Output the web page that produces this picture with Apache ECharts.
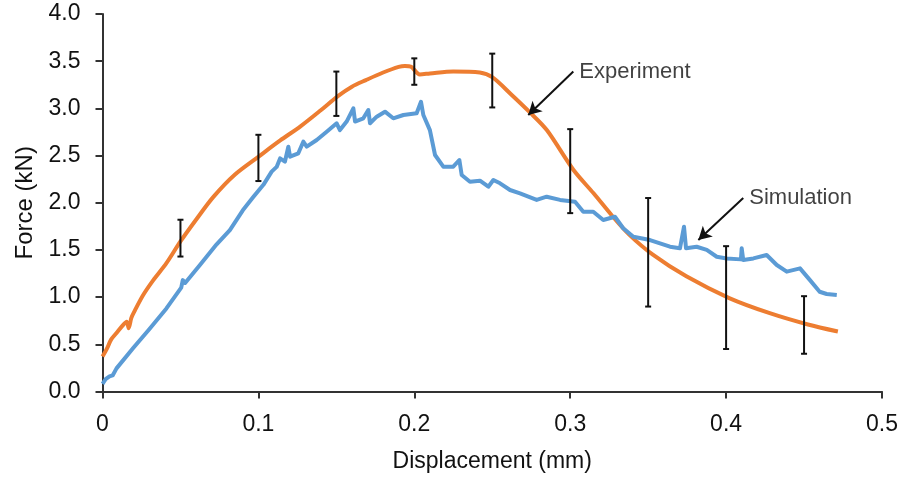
<!DOCTYPE html>
<html>
<head>
<meta charset="utf-8">
<title>Force–displacement</title>
<script src="https://cdn.jsdelivr.net/npm/echarts@6/dist/echarts.min.js"></script>
<style>
  html, body { margin: 0; padding: 0; background: #fff; }
  #chart { width: 905px; height: 479px; }
</style>
</head>
<body>
<div id="chart"></div>
<script>
// Experimental force–displacement curve (mm, kN)
const expDisp = [0.000, 0.003, 0.0055, 0.009, 0.013, 0.0155, 0.0168, 0.0185, 0.0208, 0.026,
  0.0326, 0.041, 0.050, 0.060, 0.071, 0.085, 0.101, 0.114, 0.127, 0.140,
  0.151, 0.160, 0.169, 0.180, 0.190, 0.194, 0.198, 0.2035, 0.210, 0.225,
  0.242, 0.250, 0.262, 0.274, 0.285, 0.302, 0.315, 0.327, 0.338, 0.353,
  0.3745, 0.402, 0.428, 0.4525, 0.4717];
const expForce = [0.37, 0.46, 0.55, 0.62, 0.70, 0.74, 0.67, 0.78, 0.86, 1.02,
  1.18, 1.36, 1.59, 1.82, 2.06, 2.30, 2.50, 2.66, 2.81, 2.98,
  3.13, 3.23, 3.30, 3.38, 3.44, 3.45, 3.44, 3.36, 3.37, 3.39,
  3.38, 3.33, 3.15, 2.96, 2.77, 2.35, 2.10, 1.86, 1.66, 1.45,
  1.22, 0.99, 0.83, 0.71, 0.635];

// Simulated force–displacement curve (mm, kN)
const simDisp = [0.000, 0.002, 0.0045, 0.0065, 0.009, 0.0197, 0.030, 0.041, 0.0505, 0.0515,
  0.053, 0.0625, 0.0732, 0.0817, 0.090, 0.0967, 0.1032, 0.1085, 0.1117, 0.1139,
  0.117, 0.1192, 0.1203, 0.1256, 0.1288, 0.131, 0.1374, 0.1438, 0.1502, 0.1523,
  0.1566, 0.1609, 0.162, 0.1673, 0.1705, 0.1716, 0.1759, 0.1812, 0.1865, 0.193,
  0.2015, 0.2043, 0.2058, 0.210, 0.2133, 0.2186, 0.225, 0.2289, 0.2304, 0.2357,
  0.2421, 0.2475, 0.2507, 0.255, 0.2614, 0.2678, 0.2785, 0.2849, 0.2935, 0.3031,
  0.3084, 0.3148, 0.3212, 0.3287, 0.334, 0.3405, 0.3512, 0.3576, 0.364, 0.3704,
  0.373, 0.3743, 0.3811, 0.3876, 0.394, 0.4004, 0.4095, 0.410, 0.411, 0.4175,
  0.426, 0.4325, 0.4389, 0.4474, 0.4538, 0.460, 0.4645, 0.471];
const simForce = [0.08, 0.13, 0.16, 0.17, 0.245, 0.46, 0.66, 0.88, 1.10, 1.18,
  1.15, 1.34, 1.56, 1.71, 1.92, 2.06, 2.19, 2.33, 2.38, 2.47,
  2.435, 2.594, 2.488, 2.524, 2.647, 2.594, 2.665, 2.753, 2.842, 2.77,
  2.86, 3.00, 2.86, 2.895, 2.983, 2.842, 2.912, 2.965, 2.895, 2.93,
  2.948, 3.07, 2.93, 2.77, 2.506, 2.382, 2.382, 2.453, 2.294, 2.223,
  2.234, 2.17, 2.241, 2.206, 2.135, 2.10, 2.03, 2.064, 2.03, 2.011,
  1.905, 1.905, 1.817, 1.852, 1.73, 1.64, 1.605, 1.57, 1.534, 1.517,
  1.746, 1.517, 1.534, 1.50, 1.428, 1.41, 1.40, 1.517, 1.393, 1.41,
  1.446, 1.34, 1.27, 1.305, 1.18, 1.057, 1.033, 1.022];

// Experimental scatter (error bars): displacement, lower and upper force
const barDisp = [0.05, 0.10, 0.15, 0.20, 0.25, 0.30, 0.35, 0.40, 0.45];
const barLow  = [1.43, 2.23, 2.92, 3.25, 3.01, 1.89, 0.90, 0.45, 0.40];
const barHigh = [1.82, 2.72, 3.39, 3.53, 3.58, 2.78, 2.05, 1.54, 1.01];

// Callout labels: text, label anchor and arrow tip (mm, kN)
const calloutText = ['Experiment', 'Simulation'];
const calloutFrom = [[0.302, 3.39], [0.411, 2.05]];
const calloutTo   = [[0.2731, 2.93], [0.3822, 1.605]];

const FONT = '"Liberation Sans", Arial, Helvetica, sans-serif';
const TEXT = '#111111';
const AXIS = '#333333';

const pairs = (xs, ys) => xs.map((x, i) => [x, ys[i]]);

const chart = echarts.init(document.getElementById('chart'), null, { renderer: 'canvas' });

chart.setOption({
  animation: false,
  backgroundColor: '#ffffff',
  textStyle: { fontFamily: FONT },
  grid: { left: 102.5, right: 23, top: 14, bottom: 87.5 },
  xAxis: {
    type: 'value', min: 0, max: 0.5, interval: 0.1,
    name: 'Displacement (mm)', nameLocation: 'middle', nameGap: 59,
    nameTextStyle: { fontFamily: FONT, fontSize: 23, color: TEXT },
    axisLine: { show: true, lineStyle: { color: AXIS, width: 2 } },
    axisTick: { show: true, length: 7, lineStyle: { color: AXIS, width: 2 } },
    axisLabel: {
      fontFamily: FONT, fontSize: 23, color: TEXT, margin: 22,
      formatter: v => (v === 0 ? '0' : v.toFixed(1))
    },
    splitLine: { show: false }
  },
  yAxis: {
    type: 'value', min: 0, max: 4, interval: 0.5,
    name: 'Force (kN)', nameLocation: 'middle', nameGap: 64,
    nameTextStyle: { fontFamily: FONT, fontSize: 24, color: TEXT },
    axisLine: { show: true, lineStyle: { color: AXIS, width: 2 } },
    axisTick: { show: true, length: 7, lineStyle: { color: AXIS, width: 2 } },
    axisLabel: {
      fontFamily: FONT, fontSize: 23, color: TEXT, margin: 22,
      padding: [5, 0, 0, 0],
      formatter: v => v.toFixed(1)
    },
    splitLine: { show: false }
  },
  series: [
    {
      name: 'Experiment',
      type: 'line',
      data: pairs(expDisp, expForce),
      showSymbol: false,
      smooth: 0.3,
      lineStyle: { color: '#ED7D31', width: 4 },
      z: 2
    },
    {
      name: 'Simulation',
      type: 'line',
      data: pairs(simDisp, simForce),
      showSymbol: false,
      lineStyle: { color: '#5B9BD5', width: 4, join: 'round' },
      z: 3
    },
    {
      name: 'Scatter',
      type: 'custom',
      data: barDisp.map((x, i) => [x, barLow[i], barHigh[i]]),
      encode: { x: 0, y: [1, 2] },
      z: 4,
      renderItem: (params, api) => {
        const lo = api.coord([api.value(0), api.value(1)]);
        const hi = api.coord([api.value(0), api.value(2)]);
        const cap = 3;
        const style = { stroke: '#111', lineWidth: 2 };
        return {
          type: 'group',
          children: [
            { type: 'line', shape: { x1: lo[0], y1: lo[1], x2: hi[0], y2: hi[1] }, style },
            { type: 'line', shape: { x1: hi[0] - cap, y1: hi[1], x2: hi[0] + cap, y2: hi[1] }, style },
            { type: 'line', shape: { x1: lo[0] - cap, y1: lo[1], x2: lo[0] + cap, y2: lo[1] }, style }
          ]
        };
      }
    },
    {
      name: 'Callouts',
      type: 'scatter',
      symbolSize: 0,
      z: 5,
      data: calloutText.map((t, i) => ({ value: calloutFrom[i], name: t })),
      label: {
        show: true, position: 'right', distance: 6,
        formatter: p => p.name,
        fontFamily: FONT, fontSize: 22, color: TEXT
      },
      markLine: {
        silent: true,
        symbol: ['none', 'arrow'],
        symbolSize: [11, 13],
        lineStyle: { color: '#111', width: 2, type: 'solid' },
        label: { show: false },
        data: calloutFrom.map((f, i) => [
          { coord: f },
          { coord: calloutTo[i] }
        ])
      }
    }
  ]
});
</script>
</body>
</html>
